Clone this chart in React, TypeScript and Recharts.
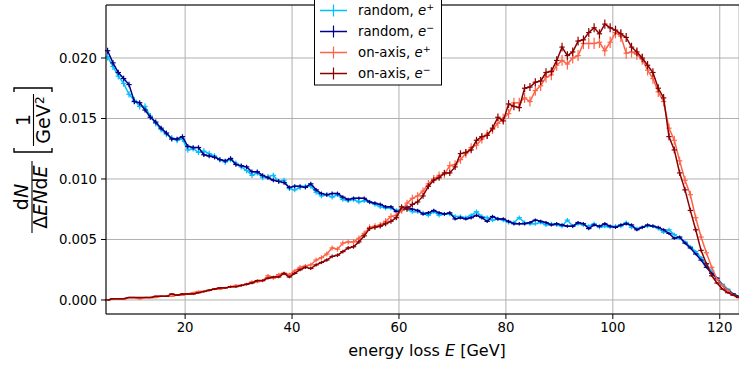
import React from 'react';
import { ComposedChart, Line, Scatter, XAxis, YAxis, CartesianGrid, ErrorBar, ReferenceLine } from 'recharts';

// bin centres of the energy-loss histogram (1 GeV bins)
const BIN_FIRST = 5.5;
const BIN_COUNT = 119;
const ENERGY: number[] = Array.from({ length: BIN_COUNT }, (_, i) => BIN_FIRST + i);
const BIN_HALF_WIDTH = 0.5;

const X_TICKS = [20, 40, 60, 80, 100, 120];
const Y_TICKS = [0, 0.005, 0.01, 0.015, 0.02];
const X_DOMAIN: [number, number] = [5.2, 123.6];
const Y_DOMAIN: [number, number] = [-0.00116, 0.02438];

const RANDOM_EPLUS = [
  0.0201, 0.0193, 0.0185, 0.0179, 0.0170, 0.0165, 0.0160, 0.0160, 0.0152, 0.0146,
  0.0141, 0.0137, 0.0134, 0.0132, 0.0133, 0.0124, 0.0125, 0.0122, 0.0123, 0.0121,
  0.0119, 0.0116, 0.0114, 0.0116, 0.0113, 0.0110, 0.0107, 0.0103, 0.0105, 0.0101,
  0.0102, 0.0103, 0.0098, 0.0099, 0.0092, 0.0091, 0.0093, 0.0094, 0.0094, 0.0089,
  0.0086, 0.0087, 0.0085, 0.0087, 0.0083, 0.0082, 0.0083, 0.0081, 0.0082, 0.0081,
  0.0079, 0.0077, 0.0076, 0.0076, 0.0074, 0.0075, 0.0075, 0.0073, 0.0073, 0.0072,
  0.0070, 0.0073, 0.0070, 0.0071, 0.0071, 0.0069, 0.0069, 0.0068, 0.0070, 0.0073,
  0.0069, 0.0068, 0.0066, 0.0067, 0.0066, 0.0064, 0.0064, 0.0068, 0.0064, 0.0063,
  0.0063, 0.0064, 0.0062, 0.0063, 0.0062, 0.0061, 0.0066, 0.0061, 0.0063, 0.0062,
  0.0061, 0.0063, 0.0060, 0.0061, 0.0060, 0.0061, 0.0061, 0.0064, 0.0060, 0.0059,
  0.0060, 0.0061, 0.0061, 0.0059, 0.0056, 0.0058, 0.0054, 0.0051, 0.0048, 0.0044,
  0.0040, 0.0035, 0.0029, 0.0024, 0.0018, 0.0013, 0.0009, 0.0005, 0.0003,
];

const RANDOM_EMINUS = [
  0.0206, 0.0196, 0.0188, 0.0183, 0.0178, 0.0164, 0.0163, 0.0157, 0.0151, 0.0147,
  0.0142, 0.0138, 0.0133, 0.0133, 0.0135, 0.0127, 0.0126, 0.0126, 0.0120, 0.0119,
  0.0118, 0.0116, 0.0115, 0.0117, 0.0112, 0.0111, 0.0110, 0.0106, 0.0106, 0.0103,
  0.0101, 0.0099, 0.0098, 0.0097, 0.0093, 0.0094, 0.0094, 0.0093, 0.0096, 0.0091,
  0.0088, 0.0087, 0.0088, 0.0088, 0.0085, 0.0083, 0.0084, 0.0084, 0.0084, 0.0081,
  0.0080, 0.0079, 0.0077, 0.0077, 0.0073, 0.0074, 0.0077, 0.0075, 0.0074, 0.0071,
  0.0072, 0.0074, 0.0072, 0.0071, 0.0072, 0.0067, 0.0068, 0.0067, 0.0068, 0.0070,
  0.0068, 0.0065, 0.0069, 0.0067, 0.0067, 0.0065, 0.0063, 0.0063, 0.0063, 0.0064,
  0.0066, 0.0065, 0.0064, 0.0062, 0.0063, 0.0062, 0.0061, 0.0061, 0.0064, 0.0063,
  0.0059, 0.0062, 0.0061, 0.0063, 0.0061, 0.0060, 0.0062, 0.0063, 0.0062, 0.0058,
  0.0060, 0.0062, 0.0061, 0.0060, 0.0058, 0.0055, 0.0051, 0.0052, 0.0047, 0.0043,
  0.0038, 0.0033, 0.0027, 0.0022, 0.0018, 0.0012, 0.0008, 0.0005, 0.0003,
];

const ONAXIS_EPLUS = [
  0.0000, 0.0001, 0.0001, 0.0001, 0.0002, 0.0002, 0.0001, 0.0002, 0.0002, 0.0002,
  0.0003, 0.0003, 0.0003, 0.0004, 0.0004, 0.0005, 0.0006, 0.0007, 0.0007, 0.0008,
  0.0009, 0.0009, 0.0010, 0.0011, 0.0012, 0.0012, 0.0013, 0.0015, 0.0015, 0.0016,
  0.0020, 0.0018, 0.0021, 0.0022, 0.0021, 0.0024, 0.0027, 0.0028, 0.0029, 0.0033,
  0.0035, 0.0038, 0.0043, 0.0042, 0.0047, 0.0048, 0.0048, 0.0051, 0.0055, 0.0060,
  0.0061, 0.0062, 0.0065, 0.0069, 0.0070, 0.0074, 0.0080, 0.0084, 0.0086, 0.0090,
  0.0096, 0.0100, 0.0103, 0.0104, 0.0111, 0.0112, 0.0116, 0.0121, 0.0126, 0.0128,
  0.0133, 0.0137, 0.0141, 0.0146, 0.0150, 0.0154, 0.0163, 0.0163, 0.0167, 0.0164,
  0.0173, 0.0177, 0.0184, 0.0186, 0.0194, 0.0198, 0.0195, 0.0200, 0.0202, 0.0212,
  0.0212, 0.0212, 0.0213, 0.0206, 0.0213, 0.0221, 0.0218, 0.0204, 0.0205, 0.0203,
  0.0199, 0.0190, 0.0183, 0.0172, 0.0164, 0.0142, 0.0132, 0.0115, 0.0099, 0.0087,
  0.0068, 0.0052, 0.0039, 0.0027, 0.0017, 0.0012, 0.0008, 0.0004, 0.0002,
];

const ONAXIS_EMINUS = [
  0.0000, 0.0001, 0.0001, 0.0001, 0.0002, 0.0002, 0.0002, 0.0002, 0.0002, 0.0003,
  0.0003, 0.0003, 0.0005, 0.0004, 0.0005, 0.0005, 0.0005, 0.0006, 0.0007, 0.0008,
  0.0009, 0.0010, 0.0010, 0.0011, 0.0011, 0.0012, 0.0013, 0.0014, 0.0016, 0.0016,
  0.0018, 0.0019, 0.0019, 0.0022, 0.0019, 0.0022, 0.0025, 0.0027, 0.0026, 0.0029,
  0.0031, 0.0033, 0.0036, 0.0037, 0.0040, 0.0043, 0.0044, 0.0048, 0.0053, 0.0059,
  0.0060, 0.0061, 0.0063, 0.0065, 0.0068, 0.0077, 0.0075, 0.0079, 0.0081, 0.0086,
  0.0094, 0.0099, 0.0101, 0.0105, 0.0105, 0.0110, 0.0121, 0.0122, 0.0124, 0.0132,
  0.0135, 0.0136, 0.0142, 0.0151, 0.0148, 0.0162, 0.0160, 0.0159, 0.0175, 0.0176,
  0.0180, 0.0181, 0.0188, 0.0189, 0.0198, 0.0209, 0.0202, 0.0205, 0.0214, 0.0215,
  0.0221, 0.0225, 0.0220, 0.0228, 0.0225, 0.0223, 0.0220, 0.0217, 0.0209, 0.0205,
  0.0200, 0.0194, 0.0188, 0.0175, 0.0167, 0.0135, 0.0124, 0.0105, 0.0091, 0.0074,
  0.0058, 0.0041, 0.0030, 0.0020, 0.0014, 0.0009, 0.0006, 0.0004, 0.0002,
];

// statistical (Poisson-like) error scale per series
const ERR_SCALE = [0.0021, 0.0017, 0.0032, 0.0025];

const SERIES_KEYS = ['re', 'rm', 'oe', 'om'];
const SERIES_VALUES = [RANDOM_EPLUS, RANDOM_EMINUS, ONAXIS_EPLUS, ONAXIS_EMINUS];
const SERIES_COLORS = ['#00BFFF', '#00008B', '#FF6347', '#8B0000'];
const SERIES_NAMES = ['random, ', 'random, ', 'on-axis, ', 'on-axis, '];
const SERIES_CHARGE = ['+', '\u2212', '+', '\u2212'];

const rows = ENERGY.map((E, i) => {
  const r: Record<string, number> = { E, xErr: BIN_HALF_WIDTH };
  SERIES_KEYS.forEach((k, s) => {
    const v = SERIES_VALUES[s][i];
    r[k] = v;
    r[k + 'Err'] = ERR_SCALE[s] * Math.sqrt(Math.max(v, 0));
  });
  return r;
});

const FONT = '"DejaVu Sans", Verdana, sans-serif';
const NoShape = () => <g />;

export default function App() {
  const series = SERIES_KEYS.map((k, s) => [
    <Line
      key={k + 'l'}
      dataKey={k}
      type="linear"
      stroke={SERIES_COLORS[s]}
      strokeWidth={1.5}
      dot={false}
      activeDot={false}
      isAnimationActive={false}
    />,
    <Scatter key={k + 's'} dataKey={k} shape={NoShape} isAnimationActive={false}>
      <ErrorBar dataKey={k + 'Err'} direction="y" width={0} stroke={SERIES_COLORS[s]} strokeWidth={1.2} isAnimationActive={false} />
      <ErrorBar dataKey="xErr" direction="x" width={0} stroke={SERIES_COLORS[s]} strokeWidth={1.2} isAnimationActive={false} />
    </Scatter>,
  ]);

  return (
    <div style={{ position: 'absolute', left: 0, top: 0, width: 739, height: 365, background: '#fff', fontFamily: FONT }}>
      <ComposedChart width={739} height={365} data={rows} margin={{ top: 5, right: 0, bottom: 0, left: 0 }}>
        <CartesianGrid stroke="#b0b0b0" strokeWidth={1} />
        <XAxis
          dataKey="E"
          type="number"
          domain={X_DOMAIN}
          ticks={X_TICKS}
          allowDataOverflow
          height={51}
          tickSize={5}
          tickMargin={4}
          stroke="#000"
          tickLine={{ stroke: '#000' }}
          tick={{ fill: '#000', fontSize: 13.3, fontFamily: FONT }}
        />
        <YAxis
          type="number"
          domain={Y_DOMAIN}
          ticks={Y_TICKS}
          allowDataOverflow
          width={106}
          tickSize={5}
          tickMargin={4}
          stroke="#000"
          tickLine={{ stroke: '#000' }}
          tickFormatter={(v: number) => v.toFixed(3)}
          tick={{ fill: '#000', fontSize: 13.3, fontFamily: FONT }}
        />
        <ReferenceLine y={Y_DOMAIN[1]} stroke="#000" strokeWidth={1} ifOverflow="visible" />
        {series}
      </ComposedChart>
      <svg width={739} height={365} style={{ position: 'absolute', left: 0, top: 0, pointerEvents: 'none' }} fontFamily={FONT}>
        {/* x-axis title */}
        <text x={427} y={356} textAnchor="middle" fontSize={16} fill="#000">
          energy loss <tspan fontStyle="italic">E</tspan> [GeV]
        </text>
        {/* y-axis title */}
        <g transform="translate(31.5,197) rotate(-90)" fill="#000">
          <text x={0} y={-4} textAnchor="middle" fontSize={19}>
            d<tspan fontStyle="italic">N</tspan>
          </text>
          <line x1={-36} x2={36} y1={0.5} y2={0.5} stroke="#000" strokeWidth={1.1} />
          <text x={0} y={15.5} textAnchor="middle" fontSize={19}>
            Δ<tspan fontStyle="italic">EN</tspan>d<tspan fontStyle="italic">E</tspan>
          </text>
        </g>
        <g transform="translate(33,120) rotate(-90)" fill="#000">
          <path d="M -28 -19 H -32 V 19 H -28" fill="none" stroke="#000" strokeWidth={1.4} />
          <path d="M 28 -19 H 32 V 19 H 28" fill="none" stroke="#000" strokeWidth={1.4} />
          <text x={0} y={-3} textAnchor="middle" fontSize={19}>1</text>
          <line x1={-26} x2={26} y1={0.5} y2={0.5} stroke="#000" strokeWidth={1.1} />
          <text x={0} y={16.5} textAnchor="middle" fontSize={19}>
            GeV<tspan dy={-6} fontSize={12.5}>2</tspan>
          </text>
        </g>
        {/* legend */}
        <rect x={314.5} y={-3} width={127} height={88} fill="#fff" stroke="#000" strokeWidth={1} />
        {SERIES_KEYS.map((k, s) => {
          const cy = 10.5 + 21 * s;
          return (
            <g key={k}>
              <line x1={320} x2={347} y1={cy} y2={cy} stroke={SERIES_COLORS[s]} strokeWidth={1.5} />
              <line x1={333.5} x2={333.5} y1={cy - 6} y2={cy + 6} stroke={SERIES_COLORS[s]} strokeWidth={1.2} />
              <text x={358} y={cy + 4.5} fontSize={13.3} fill="#000">
                {SERIES_NAMES[s]}
                <tspan fontStyle="italic">e</tspan>
                <tspan dy={-5} fontSize={9.5}>{SERIES_CHARGE[s]}</tspan>
              </text>
            </g>
          );
        })}
      </svg>
    </div>
  );
}
